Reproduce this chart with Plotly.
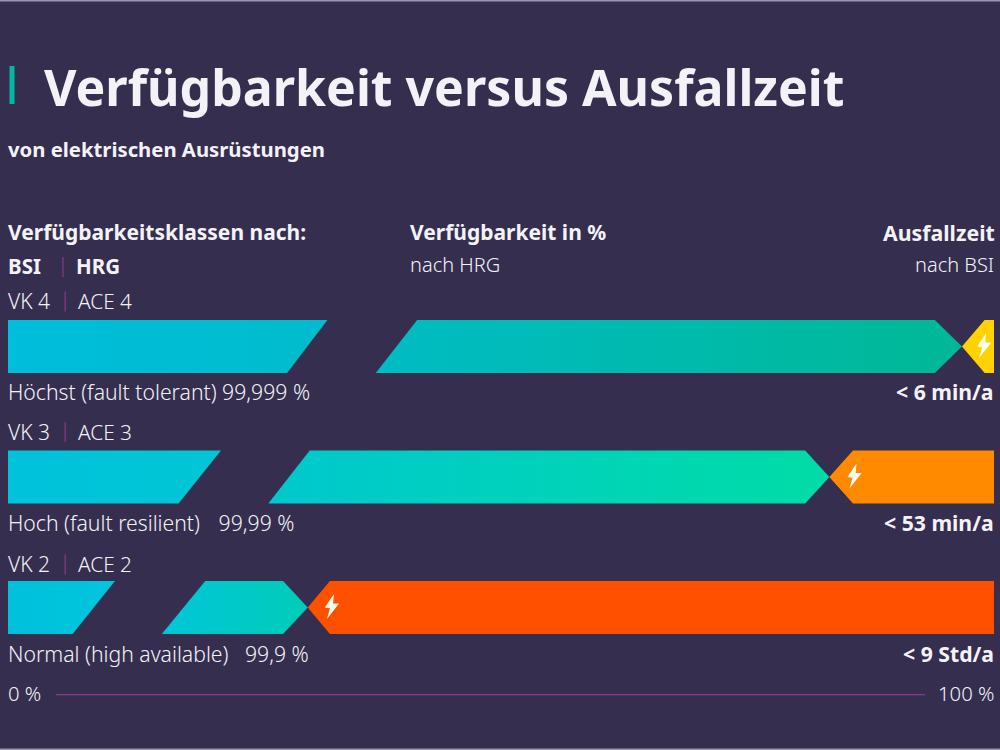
import plotly.graph_objects as go

# Availability classes, top to bottom (x values in percent of the bar length)
classes_bsi = ["VK 4", "VK 3", "VK 2"]
classes_hrg = ["ACE 4", "ACE 3", "ACE 2"]
class_names = ["Höchst (fault tolerant) 99,999 %",
               "Hoch (fault resilient)&nbsp;&nbsp;&nbsp;\u200a99,99 %",
               "Normal (high available)&nbsp;&nbsp;&nbsp;99,9 %"]
downtimes = ["< 6 min/a", "< 53 min/a", "< 9 Std/a"]

# Broken bar: left piece ends at a slant, right piece starts at a slant
left_end_top = [32.4, 21.6, 10.85]
left_end_bottom = [28.3, 17.3, 6.55]
right_start_bottom = [37.3, 26.4, 15.6]
right_start_top = [41.5, 30.6, 20.0]
# Pointed transition between uptime and downtime
uptime_shoulder = [94.0, 80.85, 27.9]
boundary = [96.75, 83.3, 30.4]
downtime_shoulder = [99.05, 85.7, 32.65]
bolt_center = [99.0, 85.85, 32.85]

left_colors = [("#00bedc", "#00bccc"), ("#00c2dc", "#00c6d4"), ("#00c0dc", "#00c6dc")]
right_colors = [("#00bcc4", "#00b896"), ("#00c8ce", "#00dca6"), ("#00c6d8", "#00ccb8")]
downtime_colors = ["#ffd200", "#ff8a00", "#ff5000"]

BG = "#352e4f"
TEXT = "#f3f2f7"
ACCENT = "#8a3a88"
FONT = "Noto Sans"

PX_X = 9.86    # pixels per percent
PX_Y = 130.5   # pixels per row
HALF = 26.5 / PX_Y

fig = go.Figure()


def polygon(xs, ys, **style):
    fig.add_trace(go.Scatter(
        x=xs + xs[:1], y=ys + ys[:1], mode="lines", fill="toself",
        line=dict(width=0), hoverinfo="skip", showlegend=False, **style))


def gradient(pair, start, stop):
    return dict(type="horizontal", start=start, stop=stop, colorscale=[[0, pair[0]], [1, pair[1]]])


for row in range(3):
    top, bottom = row - HALF, row + HALF
    polygon([0, left_end_top[row], left_end_bottom[row], 0], [top, top, bottom, bottom],
            fillgradient=gradient(left_colors[row], 0, left_end_top[row]))
    polygon([right_start_top[row], uptime_shoulder[row], boundary[row], uptime_shoulder[row], right_start_bottom[row]],
            [top, top, row, bottom, bottom],
            fillgradient=gradient(right_colors[row], right_start_bottom[row], boundary[row]))
    polygon([boundary[row], downtime_shoulder[row], 100, 100, downtime_shoulder[row]],
            [row, top, top, bottom, bottom],
            fillcolor=downtime_colors[row])
    # Lightning bolt on the downtime segment
    bolt_dx = [2, -7, -2, -5, 7.2, 1.2]
    bolt_dy = [-13.5, 0, 0.8, 11.5, -4, -4]
    polygon([bolt_center[row] + d / PX_X for d in bolt_dx],
            [row + d / PX_Y for d in bolt_dy], fillcolor="#fffdf0")

annotations = []


def text(x, y, s, size=20.3, bold=False, anchor="left", color=TEXT, ref="paper"):
    annotations.append(dict(
        x=x, y=y, xref="paper" if ref == "paper" else "x", yref="paper" if ref == "paper" else "y",
        text=f"<b>{s}</b>" if bold else s, showarrow=False, xanchor=anchor, yanchor="middle",
        font=dict(family=FONT, size=size, color=color, weight=700 if bold else 300), borderpad=0, borderwidth=0))


def at_y(py):
    return 1 - py / 750


text(0.044, at_y(87), "Verfügbarkeit versus Ausfallzeit", size=50, bold=True)
text(0.008, at_y(149), "von elektrischen Ausrüstungen", size=20.3, bold=True)
text(0.008, at_y(232), "Verfügbarkeitsklassen nach:", size=21, bold=True)
text(0.410, at_y(232), "Verfügbarkeit in %", size=21, bold=True)
text(0.995, at_y(232), "Ausfallzeit", size=21.3, bold=True, anchor="right")
text(0.008, at_y(265.5), "BSI", size=20.5, bold=True)
text(0.076, at_y(265.5), "HRG", size=20.5, bold=True)
text(0.410, at_y(265), "nach HRG", size=20)
text(0.994, at_y(265), "nach BSI", size=20, anchor="right")

head_offsets = [45, 45, 43]
foot_offsets = [45.5, 45.5, 46]
for row in range(3):
    head = row - head_offsets[row] / PX_Y
    foot = row + foot_offsets[row] / PX_Y
    text(0, head, classes_bsi[row], size=21, ref="data")
    text(7.1, head, classes_hrg[row], size=20.8, ref="data")
    text(0, foot, class_names[row], size=21.2, ref="data")
    text(100, foot, downtimes[row], size=21.2, bold=True, anchor="right", ref="data")

AXIS_ROW = 2.667
LABEL_ROW = AXIS_ROW - 1.5 / PX_Y
text(0, LABEL_ROW, "0 %", ref="data")
text(100, LABEL_ROW, "100 %", anchor="right", ref="data")

shapes = [
    # Thin rim along the top and bottom edges
    dict(type="rect", xref="paper", yref="paper", x0=0, x1=1, y0=at_y(1.5), y1=1, fillcolor="#9c97b0", line_width=0),
    dict(type="rect", xref="paper", yref="paper", x0=0, x1=1, y0=0, y1=at_y(748.5), fillcolor="#9c97b0", line_width=0),
    # Title marker
    dict(type="rect", xref="paper", yref="paper", x0=0.0095, x1=0.0145, y0=at_y(104), y1=at_y(66),
         fillcolor="#00b8a4", line_width=0),
    # Separators between the class names
    dict(type="line", xref="paper", yref="paper", x0=0.063, x1=0.063, y0=at_y(277), y1=at_y(257),
         line=dict(color=ACCENT, width=1.2)),
    # Scale line
    dict(type="line", x0=4.87, x1=93, y0=AXIS_ROW, y1=AXIS_ROW, line=dict(color=ACCENT, width=1.2)),
]
for row in range(3):
    head = head_offsets[row] / PX_Y
    shapes.append(dict(type="line", x0=5.8, x1=5.8, y0=row - head - 10 / PX_Y, y1=row - head + 10 / PX_Y,
                       line=dict(color=ACCENT, width=1.2)))

fig.update_layout(
    width=1000, height=750,
    margin=dict(l=0, r=0, t=0, b=0),
    paper_bgcolor=BG, plot_bgcolor=BG,
    showlegend=False,
    xaxis=dict(range=[-8 / PX_X, 992 / PX_X], visible=False, fixedrange=True),
    yaxis=dict(range=[3.092, -2.655], visible=False, fixedrange=True),
    annotations=annotations, shapes=shapes,
)

fig.write_html("out.html")
